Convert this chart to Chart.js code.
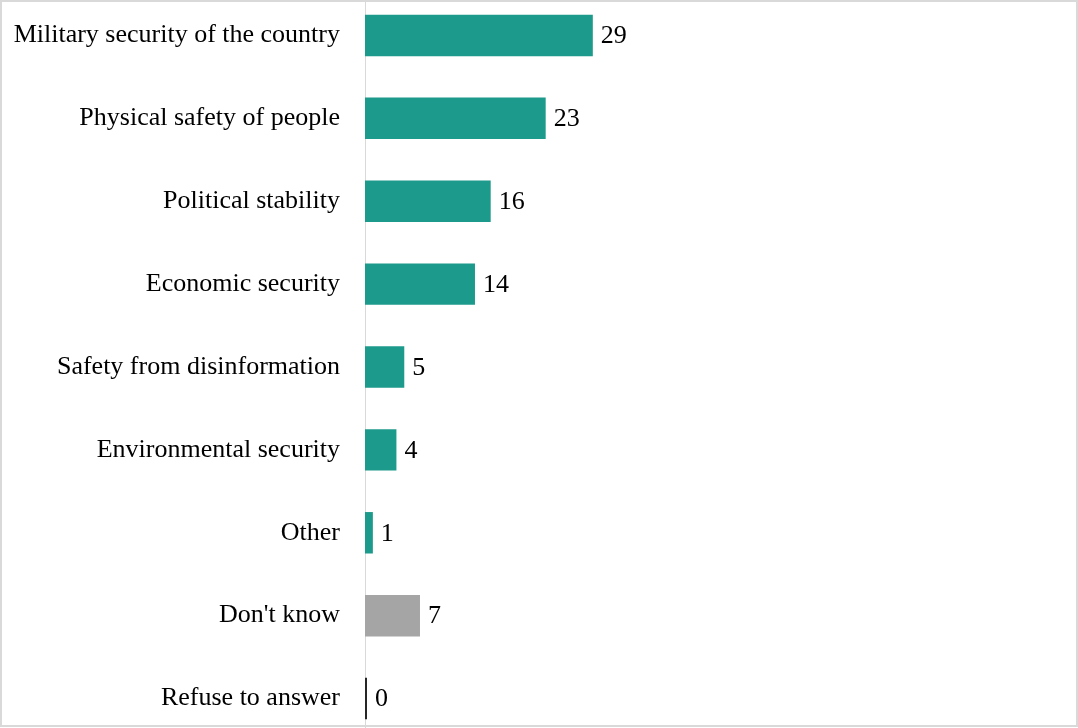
<!DOCTYPE html>
<html>
<head>
<meta charset="utf-8">
<script src="https://cdn.jsdelivr.net/npm/chart.js@4.4.0/dist/chart.umd.min.js"></script>
<style>
  html, body { margin: 0; padding: 0; background: #fff; overflow: hidden; }
  #wrap { position: relative; width: 1078px; height: 728px; overflow: hidden; }
  #frame { position: absolute; left: 0; top: 0; width: 1078px; height: 727px; box-sizing: border-box;
           border: 2px solid #d9d9d9; pointer-events: none; }
  #holder { position: absolute; left: 0; top: -6px; width: 1078px; height: 746px; }
</style>
</head>
<body>
<div id="wrap">
  <div id="holder"><canvas id="main-chart"></canvas></div>
  <div id="frame"></div>
</div>
<script>
var categories = [
    "Military security of the country",
    "Physical safety of people",
    "Political stability",
    "Economic security",
    "Safety from disinformation",
    "Environmental security",
    "Other",
    "Don't know",
    "Refuse to answer"
];
var values = [29, 23, 16, 14, 5, 4, 1, 7, 0];
var barColors = ["#1c9a8b", "#1c9a8b", "#1c9a8b", "#1c9a8b", "#1c9a8b", "#1c9a8b", "#1c9a8b", "#a5a5a5", "#262626"];

var fontFamily = "'Liberation Serif', 'DejaVu Serif', serif";

// writes the value just past the end of each bar
var valueLabels = {
    id: 'valueLabels',
    afterDatasetsDraw(chart) {
        var ctx = chart.ctx;
        var meta = chart.getDatasetMeta(0);
        ctx.save();
        ctx.font = "26px " + fontFamily;
        ctx.fillStyle = "#000";
        ctx.textAlign = "left";
        ctx.textBaseline = "middle";
        meta.data.forEach(function (bar, i) {
            ctx.fillText(String(values[i]), bar.x + 8, bar.y + 1);
        });
        ctx.restore();
    }
};

var chartDegree = document.querySelector('#main-chart').getContext('2d');
var myChart = new Chart(chartDegree, {
    type: 'bar',
    data: {
        labels: categories,
        datasets: [{
            data: values,
            backgroundColor: barColors,
            borderWidth: 0,
            minBarLength: 2,
            barPercentage: 0.5,
            categoryPercentage: 1
        }]
    },
    options: {
        indexAxis: 'y',
        responsive: true,
        maintainAspectRatio: false,
        animation: false,
        layout: { padding: { left: 0, right: 6, top: 0, bottom: 0 } },
        plugins: {
            legend: { display: false },
            tooltip: { enabled: false }
        },
        scales: {
            x: {
                display: false,
                min: 0,
                max: 90
            },
            y: {
                offset: true,
                grid: { display: false, drawTicks: false },
                border: { display: true, color: "#d9d9d9", width: 1 },
                ticks: {
                    color: "#000",
                    padding: 25,
                    font: { family: fontFamily, size: 26 }
                },
                afterFit(scale) {
                    scale.width = 365;
                    scale.paddingTop = 0;
                    scale.paddingBottom = 0;
                }
            }
        }
    },
    plugins: [valueLabels]
});
</script>
</body>
</html>
